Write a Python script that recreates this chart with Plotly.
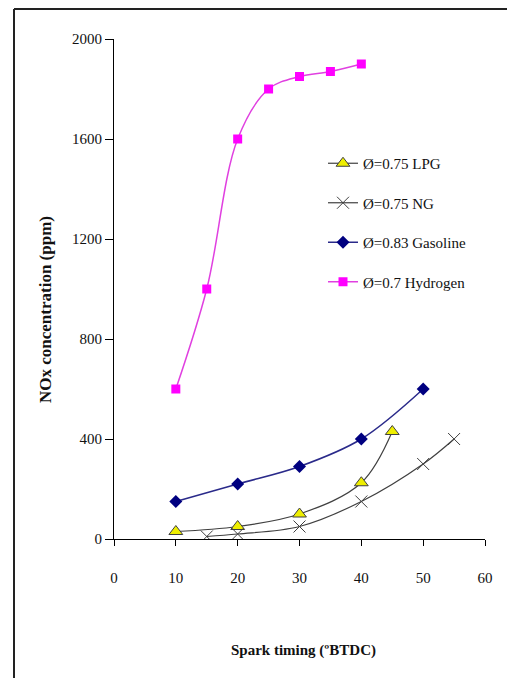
import plotly.graph_objects as go

lpg_x = [10, 20, 30, 40, 45]
lpg_y = [30, 50, 100, 225, 430]
ng_x = [15, 20, 30, 40, 50, 55]
ng_y = [10, 20, 50, 150, 300, 400]
gas_x = [10, 20, 30, 40, 50]
gas_y = [150, 220, 290, 400, 600]
h2_x = [10, 15, 20, 25, 30, 35, 40]
h2_y = [600, 1000, 1600, 1800, 1850, 1870, 1900]

x_ticks = [0, 10, 20, 30, 40, 50, 60]
y_ticks = [0, 400, 800, 1200, 1600, 2000]

FONT = "Liberation Serif"

# plot area in reference pixel coordinates
L, T, W, H = 114, 39, 371, 500
OFF = 8  # page body offset


def px(x):
    return (x - L) / W


def py(y):
    return (T + H - y) / H


fig = go.Figure()
fig.add_trace(go.Scatter(
    x=lpg_x, y=lpg_y, name="Ø=0.75 LPG", mode="lines+markers", legendgroup="a",
    line=dict(color="#404040", width=1.2, shape="spline"),
    marker=dict(symbol="triangle-up", size=12, color="#EEEE00",
                line=dict(color="#404040", width=1))))
fig.add_trace(go.Scatter(
    x=ng_x, y=ng_y, name="Ø=0.75 NG", mode="lines+markers", legendgroup="b",
    line=dict(color="#404040", width=1.2, shape="spline"),
    marker=dict(symbol="x-thin", size=12, color="#404040",
                line=dict(color="#404040", width=1))))
fig.add_trace(go.Scatter(
    x=gas_x, y=gas_y, name="Ø=0.83 Gasoline", mode="lines+markers", legendgroup="c",
    line=dict(color="#2a2a8a", width=1.5, shape="spline"),
    marker=dict(symbol="diamond", size=10, color="#000080")))
fig.add_trace(go.Scatter(
    x=h2_x, y=h2_y, name="Ø=0.7 Hydrogen", mode="lines+markers", legendgroup="d",
    line=dict(color="#E040E0", width=1.5, shape="spline"),
    marker=dict(symbol="square", size=9, color="#FF00FF")))

fig.update_layout(
    width=515, height=678,
    margin=dict(l=L - OFF, r=515 - (L - OFF) - W, t=T - OFF, b=678 - (T - OFF) - H),
    paper_bgcolor="white", plot_bgcolor="white",
    font=dict(family=FONT, size=14, color="#111"),
    showlegend=True,
    legend=dict(x=px(323), y=py(147), xanchor="left", yanchor="top",
                bgcolor="rgba(0,0,0,0)", tracegroupgap=17,
                font=dict(family=FONT, size=15, color="#111"),
                itemwidth=30),
    xaxis=dict(range=[0, 60], tickvals=x_ticks, showgrid=False, zeroline=False,
               showline=True, linecolor="black", linewidth=1,
               ticks="outside", ticklen=6, tickcolor="black",
               ticklabelstandoff=19, tickfont=dict(family=FONT, size=15)),
    yaxis=dict(range=[0, 2000], tickvals=y_ticks, showgrid=False, zeroline=False,
               showline=True, linecolor="black", linewidth=1,
               ticks="outside", ticklen=8, tickcolor="black",
               tickfont=dict(family=FONT, size=15)),
    annotations=[
        dict(text="<b>NOx concentration (ppm)</b>", xref="paper", yref="paper",
             x=px(45), y=py(310), textangle=-90,
             showarrow=False, font=dict(family=FONT, size=17, color="#111"),
             xanchor="center", yanchor="middle"),
        dict(text="<b>Spark timing (ºBTDC)</b>", xref="paper", yref="paper",
             x=px(303), y=py(650),
             showarrow=False, font=dict(family=FONT, size=15, color="#111"),
             xanchor="center", yanchor="middle"),
    ],
    shapes=[
        dict(type="line", xref="paper", yref="paper",
             x0=px(14), x1=px(14), y0=py(9), y1=py(700),
             line=dict(color="#222", width=2)),
        dict(type="line", xref="paper", yref="paper",
             x0=px(14), x1=px(540), y0=py(9), y1=py(9),
             line=dict(color="#222", width=2)),
    ],
)

fig.write_html("out.html")
